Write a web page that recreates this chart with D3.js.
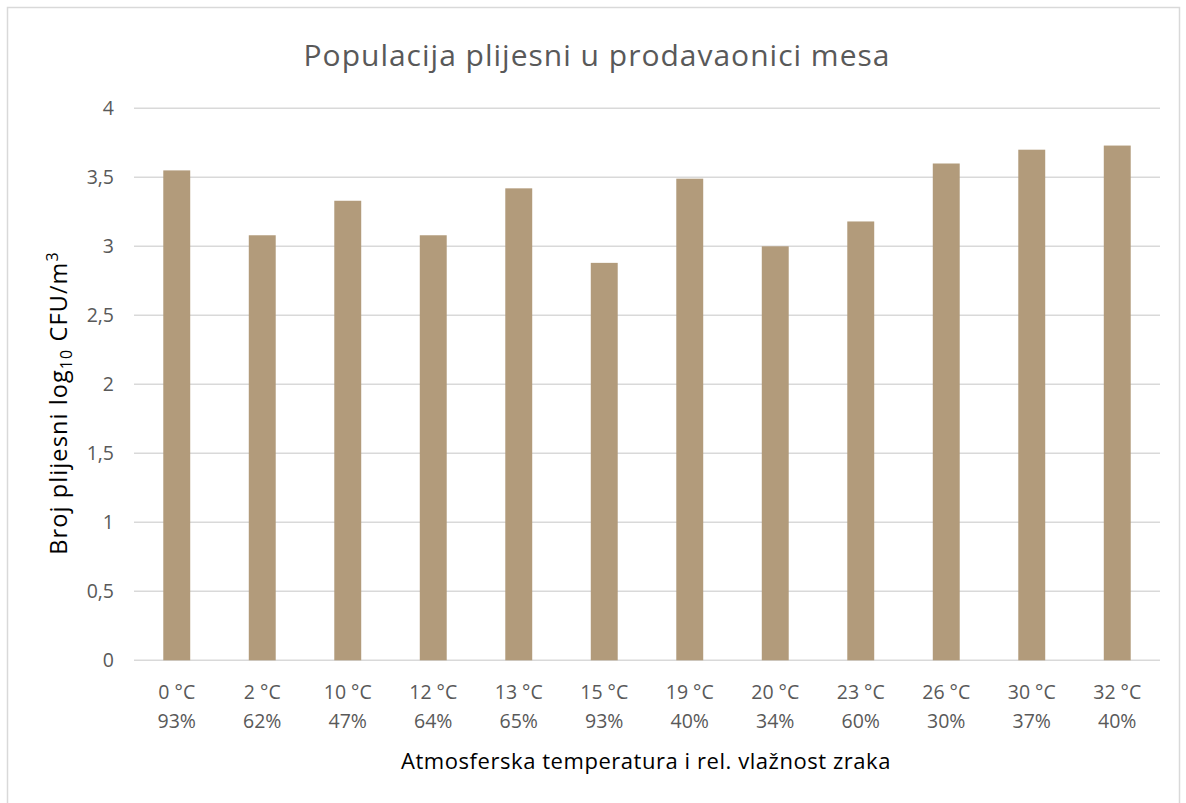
<!DOCTYPE html>
<html><head><meta charset="utf-8">
<script src="https://cdn.jsdelivr.net/npm/d3@7"></script>
<style>body{margin:0;background:#fff;font-family:"Open Sans",Lato,sans-serif}</style>
</head><body><svg id="c" width="1186" height="803"></svg>
<script>
const tempLabels = ["0 °C","2 °C","10 °C","12 °C","13 °C","15 °C","19 °C","20 °C","23 °C","26 °C","30 °C","32 °C"];
const humidityLabels = ["93%","62%","47%","64%","65%","93%","40%","34%","60%","30%","37%","40%"];
const values = [3.55, 3.08, 3.33, 3.08, 3.42, 2.88, 3.49, 3.00, 3.18, 3.60, 3.70, 3.73];
const yTicks = [0,0.5,1,1.5,2,2.5,3,3.5,4];
const title = "Populacija plijesni u prodavaonici mesa";
const xTitle = "Atmosferska temperatura i rel. vlažnost zraka";

const svg = d3.select("#c");
const m = {left:134, right:1160, top:108.3, bottom:660.3};
svg.append("rect").attr("x",7.5).attr("y",7.5).attr("width",1172).attr("height",800)
  .attr("fill","#fff").attr("stroke","#d9d9d9").attr("stroke-width",1.5);

const idx = d3.range(values.length);
const x = d3.scaleBand().domain(idx).range([m.left,m.right]).paddingInner(0.685).paddingOuter(0.3425);
const y = d3.scaleLinear().domain([0,4]).range([m.bottom,m.top]);

svg.append("g").selectAll("line").data(yTicks).join("line")
  .attr("x1",m.left).attr("x2",m.right).attr("y1",d=>y(d)).attr("y2",d=>y(d))
  .attr("stroke","#d9d9d9").attr("stroke-width",1.5);

const fmt = d => String(d).replace(".",",");
svg.append("g").selectAll("text").data(yTicks).join("text")
  .attr("x",114).attr("y",d=>y(d)).attr("dy","0.35em").attr("text-anchor","end")
  .attr("fill","#595959").attr("font-size",19.5).text(fmt);

svg.append("g").selectAll("rect").data(values).join("rect")
  .attr("x",(d,i)=>x(i)).attr("width",x.bandwidth())
  .attr("y",d=>y(d)).attr("height",d=>y(0)-y(d))
  .attr("fill","#b29b7b");

const xl = svg.append("g");
xl.selectAll("text.t").data(tempLabels).join("text").attr("class","t")
  .attr("x",(d,i)=>x(i)+x.bandwidth()/2).attr("y",699).attr("text-anchor","middle")
  .attr("fill","#595959").attr("font-size",19.5).text(d=>d);
xl.selectAll("text.h").data(humidityLabels).join("text").attr("class","h")
  .attr("x",(d,i)=>x(i)+x.bandwidth()/2).attr("y",728).attr("text-anchor","middle")
  .attr("fill","#595959").attr("font-size",19.5).text(d=>d);

svg.append("text").attr("x",597).attr("y",66).attr("text-anchor","middle")
  .attr("fill","#595959").attr("font-size",30).attr("letter-spacing",1).text(title);

svg.append("text").attr("x",646).attr("y",769).attr("text-anchor","middle")
  .attr("fill","#000").attr("font-size",22).attr("letter-spacing",0.55).text(xTitle);

const yt = svg.append("text").attr("transform","translate(67,403) rotate(-90)")
  .attr("text-anchor","middle").attr("fill","#000").attr("font-size",23.5).attr("letter-spacing",1.1);
yt.append("tspan").text("Broj plijesni log");
yt.append("tspan").attr("font-size",16).attr("dy",5).text("10");
yt.append("tspan").attr("dy",-5).text(" CFU/m");
yt.append("tspan").attr("font-size",16).attr("dy",-9).text("3");
</script></body></html>
